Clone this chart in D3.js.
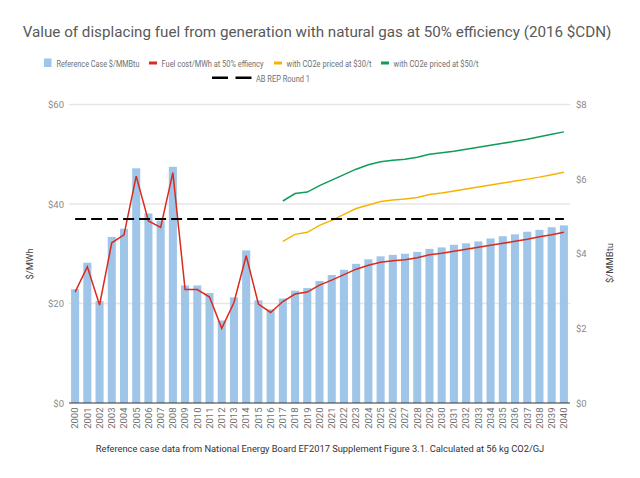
<!DOCTYPE html>
<html>
<head>
<meta charset="utf-8">
<script src="https://cdn.jsdelivr.net/npm/d3@7"></script>
<style>
  body { margin: 0; background: #fff; }
  text { font-family: Roboto, sans-serif; }
</style>
</head>
<body>
<script>
// chart data
const years = d3.range(2000, 2041).map(String);

// Reference case, $/MMBtu (right axis)
const refCase = [3.05, 3.76, 2.73, 4.45, 4.67, 6.29, 5.08, 4.89, 6.33, 3.15,
  3.15, 2.95, 2.21, 2.83, 4.09, 2.75, 2.51, 2.80, 3.01, 3.08,
  3.27, 3.43, 3.57, 3.73, 3.85, 3.93, 3.97, 4.00, 4.05, 4.13,
  4.17, 4.24, 4.28, 4.33, 4.41, 4.47, 4.52, 4.59, 4.64, 4.71, 4.76];

// Fuel cost $/MWh at 50% efficiency (left axis)
const fuelCost = [22.3, 27.4, 19.7, 32.2, 33.8, 45.6, 36.6, 35.3, 46.3, 22.8,
  22.8, 21.3, 15.0, 20.2, 29.6, 19.9, 18.2, 20.4, 21.9, 22.3,
  23.7, 24.7, 25.8, 26.9, 27.7, 28.3, 28.6, 28.8, 29.2, 29.8,
  30.1, 30.5, 30.9, 31.3, 31.7, 32.1, 32.5, 32.9, 33.4, 33.8, 34.3];

// with CO2e at $30/t and $50/t (left axis), from 2017
const co2At30 = [null, null, null, null, null, null, null, null, null, null,
  null, null, null, null, null, null, null, 32.5, 33.9, 34.3,
  35.7, 36.7, 37.9, 39.1, 39.8, 40.5, 40.8, 41.0, 41.3, 41.9,
  42.2, 42.6, 43.0, 43.4, 43.8, 44.2, 44.6, 45.0, 45.4, 45.9, 46.4];

const co2At50 = [null, null, null, null, null, null, null, null, null, null,
  null, null, null, null, null, null, null, 40.6, 42.1, 42.4,
  43.7, 44.8, 45.9, 47.0, 47.9, 48.5, 48.8, 49.0, 49.4, 50.0,
  50.3, 50.6, 51.0, 51.4, 51.8, 52.2, 52.6, 53.0, 53.5, 54.0, 54.5];

// AB REP Round 1, $/MWh (left axis)
const abRep = years.map(() => 37.0);

const leftTicks = [0, 20, 40, 60];
const rightTicks = [0, 2, 4, 6, 8];

const W = 640, H = 478;
const m = { top: 104.5, right: 70, bottom: 75, left: 69 };

const svg = d3.select("body").append("svg")
  .attr("width", W)
  .attr("height", H);

const x = d3.scaleBand()
  .domain(years)
  .range([m.left, W - m.right])
  .paddingInner(0.34)
  .paddingOuter(0.17);

const yL = d3.scaleLinear().domain([0, 60]).range([H - m.bottom, m.top]);
const yR = d3.scaleLinear().domain([0, 8]).range([H - m.bottom, m.top]);

// title
svg.append("text")
  .attr("x", 317)
  .attr("y", 37)
  .attr("text-anchor", "middle")
  .style("font-size", "15.2px")
  .style("fill", "#595959")
  .text("Value of displacing fuel from generation with natural gas at 50% efficiency (2016 $CDN)");

// gridlines
svg.append("g")
  .selectAll("line")
  .data(leftTicks.slice(1))
  .join("line")
  .attr("x1", m.left)
  .attr("x2", W - m.right)
  .attr("y1", d => yL(d))
  .attr("y2", d => yL(d))
  .attr("stroke", "#e6e6e6")
  .attr("stroke-width", 1.5);

// left axis
const axL = svg.append("g")
  .attr("transform", `translate(${m.left},0)`)
  .call(d3.axisLeft(yL).tickValues(leftTicks).tickFormat(d => "$" + d).tickSize(0).tickPadding(5));
axL.select(".domain").remove();
axL.selectAll("text").style("font-size", "9.5px").style("fill", "#8a8a8a").style("font-family", "Roboto");

// right axis
const axR = svg.append("g")
  .attr("transform", `translate(${W - m.right},0)`)
  .call(d3.axisRight(yR).tickValues(rightTicks).tickFormat(d => "$" + d).tickSize(0).tickPadding(6));
axR.select(".domain").remove();
axR.selectAll("text").style("font-size", "9.5px").style("fill", "#8a8a8a").style("font-family", "Roboto");

// axis titles
svg.append("text")
  .attr("transform", "translate(33,264) rotate(-90)")
  .attr("text-anchor", "middle")
  .style("font-size", "9.5px")
  .style("fill", "#444")
  .text("$/MWh");
svg.append("text")
  .attr("transform", "translate(613,263) rotate(-90)")
  .attr("text-anchor", "middle")
  .style("font-size", "9.5px")
  .style("fill", "#444")
  .text("$/MMBtu");

// bars
svg.append("g")
  .selectAll("rect")
  .data(refCase)
  .join("rect")
  .attr("x", (d, i) => x(years[i]))
  .attr("width", x.bandwidth())
  .attr("y", d => yR(d))
  .attr("height", d => yR(0) - yR(d))
  .attr("fill", "#9fc5e8");

// baseline
svg.append("line")
  .attr("x1", m.left)
  .attr("x2", W - m.right)
  .attr("y1", yL(0))
  .attr("y2", yL(0))
  .attr("stroke", "#333")
  .attr("stroke-width", 1);

const cx = (d, i) => x(years[i]) + x.bandwidth() / 2;

function drawLine(values, color, dash) {
  const line = d3.line()
    .defined(d => d != null)
    .x(cx)
    .y(d => yL(d));
  svg.append("path")
    .datum(values)
    .attr("fill", "none")
    .attr("stroke", color)
    .attr("stroke-width", dash ? 2 : 1.5)
    .attr("stroke-dasharray", dash || null)
    .attr("d", line);
}

drawLine(fuelCost, "#db2a1e");
drawLine(co2At30, "#f6b400");
drawLine(co2At50, "#0f9d58");
drawLine(abRep, "#000", "11,5");

// x labels
svg.append("g")
  .selectAll("text")
  .data(years)
  .join("text")
  .attr("transform", d => `translate(${x(d) + x.bandwidth() / 2 + 3.3},${yL(0) + 4.5}) rotate(-90)`)
  .attr("text-anchor", "end")
  .style("font-size", "9.5px")
  .style("fill", "#707070")
  .text(d => d);

// legend
const legend = svg.append("g");
const row1 = [
  { label: "Reference Case $/MMBtu", color: "#9fc5e8", type: "box", x: 44, w: 83 },
  { label: "Fuel cost/MWh at 50% effiency", color: "#db2a1e", type: "line", x: 149, w: 102 },
  { label: "with CO2e priced at $30/t", color: "#f6b400", type: "line", x: 274, w: 85 },
  { label: "with CO2e priced at $50/t", color: "#0f9d58", type: "line", x: 381, w: 85 }
];
row1.forEach(d => {
  if (d.type === "box") {
    legend.append("rect").attr("x", d.x).attr("y", 58.5).attr("width", 7.5).attr("height", 8.5).attr("fill", d.color);
  } else {
    legend.append("rect").attr("x", d.x).attr("y", 61.5).attr("width", 8).attr("height", 3).attr("fill", d.color);
  }
  legend.append("text")
    .attr("x", d.x + 12.5)
    .attr("y", 67)
    .attr("textLength", d.w)
    .attr("lengthAdjust", "spacingAndGlyphs")
    .style("font-size", "9.8px")
    .style("fill", "#707070")
    .text(d.label);
});
legend.append("rect").attr("x", 212).attr("y", 76.5).attr("width", 16).attr("height", 2.5).attr("fill", "#000");
legend.append("rect").attr("x", 235.5).attr("y", 76.5).attr("width", 16).attr("height", 2.5).attr("fill", "#000");
legend.append("text")
  .attr("x", 256)
  .attr("y", 82)
  .attr("textLength", 54)
  .attr("lengthAdjust", "spacingAndGlyphs")
  .style("font-size", "9.8px")
  .style("fill", "#707070")
  .text("AB REP Round 1");

// footer note
svg.append("text")
  .attr("x", 320)
  .attr("y", 452)
  .attr("text-anchor", "middle")
  .style("font-size", "9.3px")
  .style("fill", "#333")
  .text("Reference case data from National Energy Board EF2017 Supplement Figure 3.1. Calculated at 56 kg CO2/GJ");
</script>
</body>
</html>
